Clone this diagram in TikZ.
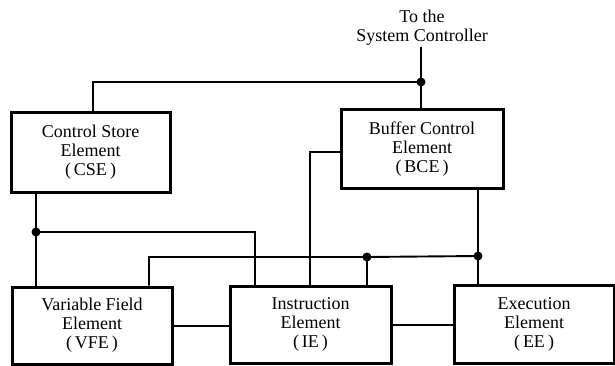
\documentclass[tikz,border=0pt]{standalone}
\usepackage{fontspec}
\setmainfont{Liberation Serif}
\begin{document}
\begin{tikzpicture}[x=1pt,y=-1pt,
  box/.style={draw,line width=3pt,inner sep=0pt,align=center,
    font=\fontsize{18}{19}\selectfont},
  wire/.style={line width=1.9pt},
  dot/.style={circle,fill,inner sep=0pt,minimum size=9pt}]
\useasboundingbox (0,0) rectangle (615,366);
\node[box,minimum width=159pt,minimum height=79pt] (cse) at (90.5,152.5) {Control Store\\Element\\(\,CSE\,)};
\node[box,minimum width=162pt,minimum height=78pt] (bce) at (422,149) {Buffer Control\\Element\\(\,BCE\,)};
\node[box,minimum width=160pt,minimum height=77pt] (vfe) at (92,325.5) {Variable Field\\Element\\(\,VFE\,)};
\node[box,minimum width=161pt,minimum height=77pt] (ie) at (310.5,324.5) {Instruction\\Element\\(\,IE\,)};
\node[box,minimum width=160pt,minimum height=78pt] (ee) at (534,324) {Execution\\Element\\(\,EE\,)};
\node[align=center,inner sep=1pt,font=\fontsize{18}{19}\selectfont] (sc) at (422,28) {To the\\System Controller};
% junctions
\node[dot] (j1) at (421,82) {};
\node[dot] (j2) at (36,232) {};
\node[dot] (j3) at (478,256) {};
\node[dot] (j4) at (367,257) {};
\coordinate (c1) at (93,82);
\coordinate (c2) at (255,232);
\coordinate (c3) at (310,152);
\coordinate (c4) at (149,257);
% wires
\draw[wire] (sc.south -| j1) -- (j1.center) -- (bce.north -| j1);
\draw[wire] (cse.north -| c1) -- (c1) -- (j1.center);
\draw[wire] (cse.south -| j2) -- (j2.center) -- (vfe.north -| j2);
\draw[wire] (j2.center) -- (c2) -- (ie.north -| c2);
\draw[wire] (bce.west |- c3) -- (c3) -- (ie.north -| c3);
\draw[wire] (bce.south -| j3) -- (j3.center) -- (ee.north -| j3);
\draw[wire] (vfe.north -| c4) -- (c4) -- (j4.center) -- (j3.center);
\draw[wire] (j4.center) -- (ie.north -| j4);
\draw[wire] (vfe.east |- 0,326) -- (ie.west |- 0,326);
\draw[wire] (ie.east |- 0,325) -- (ee.west |- 0,325);
\end{tikzpicture}
\end{document}
